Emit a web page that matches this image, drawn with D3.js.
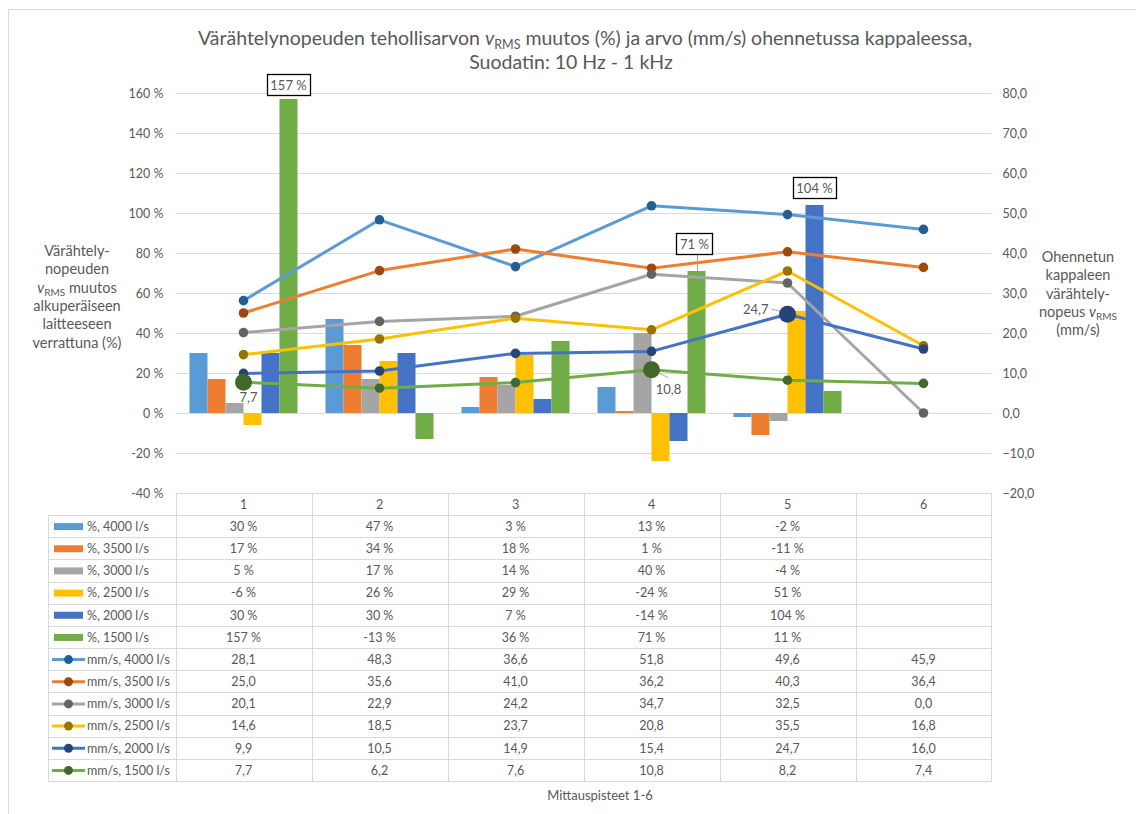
<!DOCTYPE html>
<html>
<head>
<meta charset="utf-8">
<script src="https://cdn.jsdelivr.net/npm/d3@7"></script>
<style>
  html, body { margin: 0; padding: 0; background: #fff; }
  svg { display: block; }
  text { font-family: Lato, "Open Sans", sans-serif; fill: #595959; }
</style>
</head>
<body>
<svg id="chart" width="1136" height="814"></svg>
<script>
// Measuring points along the x axis
const categories = ["1", "2", "3", "4", "5", "6"];

// Change of v_RMS (%) compared with the original device (bars, left axis)
const pct4000 = [30, 47, 3, 13, -2, null];
const pct3500 = [17, 34, 18, 1, -11, null];
const pct3000 = [5, 17, 14, 40, -4, null];
const pct2500 = [-6, 26, 29, -24, 51, null];
const pct2000 = [30, 30, 7, -14, 104, null];
const pct1500 = [157, -13, 36, 71, 11, null];

// Velocity of the thinned part, mm/s (lines, right axis)
const mm4000 = [28.1, 48.3, 36.6, 51.8, 49.6, 45.9];
const mm3500 = [25.0, 35.6, 41.0, 36.2, 40.3, 36.4];
const mm3000 = [20.1, 22.9, 24.2, 34.7, 32.5, 0.0];
const mm2500 = [14.6, 18.5, 23.7, 20.8, 35.5, 16.8];
const mm2000 = [9.9, 10.5, 14.9, 15.4, 24.7, 16.0];
const mm1500 = [7.7, 6.2, 7.6, 10.8, 8.2, 7.4];

// Axis ticks
const leftTicks = [-40, -20, 0, 20, 40, 60, 80, 100, 120, 140, 160];
const rightTicks = [-20, -10, 0, 10, 20, 30, 40, 50, 60, 70, 80];

const barSeries = [
  { name: "%, 4000 l/s", values: pct4000, color: "#5B9BD5" },
  { name: "%, 3500 l/s", values: pct3500, color: "#ED7D31" },
  { name: "%, 3000 l/s", values: pct3000, color: "#A5A5A5" },
  { name: "%, 2500 l/s", values: pct2500, color: "#FFC000" },
  { name: "%, 2000 l/s", values: pct2000, color: "#4472C4" },
  { name: "%, 1500 l/s", values: pct1500, color: "#70AD47" }
];
const lineSeries = [
  { name: "mm/s, 4000 l/s", values: mm4000, color: "#5B9BD5", marker: "#255E91" },
  { name: "mm/s, 3500 l/s", values: mm3500, color: "#ED7D31", marker: "#9E480E" },
  { name: "mm/s, 3000 l/s", values: mm3000, color: "#A5A5A5", marker: "#636363" },
  { name: "mm/s, 2500 l/s", values: mm2500, color: "#FFC000", marker: "#997300" },
  { name: "mm/s, 2000 l/s", values: mm2000, color: "#4472C4", marker: "#264478" },
  { name: "mm/s, 1500 l/s", values: mm1500, color: "#70AD47", marker: "#43682B" }
];

const fi = d3.formatLocale({ decimal: ",", thousands: "\u00a0", grouping: [3], currency: ["", "\u00a0€"] });
const fmt1 = fi.format(".1f");
const fmtPct = v => (v < 0 ? "-" : "") + Math.abs(v) + " %";

const svg = d3.select("#chart");

// Chart frame
svg.append("line").attr("x1", 8.5).attr("x2", 8.5).attr("y1", 9.5).attr("y2", 814).attr("stroke", "#D9D9D9");
svg.append("line").attr("x1", 8.5).attr("x2", 1136).attr("y1", 9.5).attr("y2", 9.5).attr("stroke", "#D9D9D9");

// Plot geometry
const plotLeft = 175.5, plotRight = 991.5, plotTop = 93, plotBottom = 493;

const x0 = d3.scaleBand().domain(categories).range([plotLeft, plotRight]).paddingInner(0).paddingOuter(0);
const x1 = d3.scaleBand().domain(barSeries.map(s => s.name)).range([0, x0.bandwidth()]).paddingInner(0).paddingOuter(0.778);
const yL = d3.scaleLinear().domain([-40, 160]).range([plotBottom, plotTop]);
const yR = d3.scaleLinear().domain([-20, 80]).range([plotBottom, plotTop]);
const cx = c => x0(c) + x0.bandwidth() / 2;

// Gridlines
svg.append("g").selectAll("line").data(leftTicks).join("line")
  .attr("x1", plotLeft).attr("x2", plotRight)
  .attr("y1", d => Math.round(yL(d)) + 0.5).attr("y2", d => Math.round(yL(d)) + 0.5)
  .attr("stroke", "#D9D9D9").attr("stroke-width", 1);

// Left axis
const axL = svg.append("g").attr("transform", `translate(${plotLeft - 12},0)`)
  .call(d3.axisLeft(yL).tickValues(leftTicks).tickFormat(d => d + " %").tickSize(0).tickPadding(0));
axL.select(".domain").remove();
axL.selectAll("text").style("font-size", "12.5px").attr("fill", "#595959").style("font-family", "Lato, sans-serif");

// Right axis
const axR = svg.append("g").attr("transform", `translate(${plotRight + 11},0)`)
  .call(d3.axisRight(yR).tickValues(rightTicks).tickFormat(d => fmt1(d)).tickSize(0).tickPadding(0));
axR.select(".domain").remove();
axR.selectAll("text").style("font-size", "12.5px").attr("fill", "#595959").style("font-family", "Lato, sans-serif");

// Bars
const barG = svg.append("g");
barSeries.forEach(s => {
  barG.append("g").selectAll("rect")
    .data(categories.map((c, i) => ({ c, v: s.values[i] })).filter(d => d.v !== null))
    .join("rect")
    .attr("x", d => x0(d.c) + x1(s.name))
    .attr("width", x1.bandwidth())
    .attr("y", d => yL(Math.max(0, d.v)))
    .attr("height", d => Math.abs(yL(d.v) - yL(0)))
    .attr("fill", s.color);
});

// Lines with markers
const lineGen = d3.line().x((d, i) => cx(categories[i])).y(d => yR(d));
const lineG = svg.append("g");
lineSeries.forEach(s => {
  lineG.append("path").datum(s.values).attr("d", lineGen)
    .attr("fill", "none").attr("stroke", s.color).attr("stroke-width", 3)
    .attr("stroke-linejoin", "round").attr("stroke-linecap", "round");
});
lineSeries.forEach(s => {
  lineG.append("g").selectAll("circle").data(s.values).join("circle")
    .attr("cx", (d, i) => cx(categories[i])).attr("cy", d => yR(d)).attr("r", 4.8)
    .attr("fill", s.marker);
});

// Highlighted points with value labels
const highlights = [
  { series: 5, idx: 0, dx: 5, dy: 15, anchor: "middle", leader: null },
  { series: 5, idx: 3, dx: 17, dy: 20, anchor: "middle", leader: [[5, 2], [17, 8]] },
  { series: 4, idx: 4, dx: -19, dy: -5, anchor: "end", leader: [[-3, -2], [-16, -5]] }
];
highlights.forEach(h => {
  const s = lineSeries[h.series];
  const v = s.values[h.idx];
  const px = cx(categories[h.idx]), py = yR(v);
  if (h.leader) {
    svg.append("line")
      .attr("x1", px + h.leader[0][0]).attr("y1", py + h.leader[0][1])
      .attr("x2", px + h.leader[1][0]).attr("y2", py + h.leader[1][1])
      .attr("stroke", "#A6A6A6").attr("stroke-width", 1);
  }
  svg.append("circle").attr("cx", px).attr("cy", py).attr("r", 8.5).attr("fill", s.marker);
  svg.append("text").attr("x", px + h.dx).attr("y", py + h.dy).attr("dy", "0.35em")
    .attr("text-anchor", h.anchor).style("font-size", "13px").text(fmt1(v));
});

// Boxed bar value labels
const boxLabels = [
  { series: 5, idx: 0, w: 43, gap: 4, offsetX: 0, leader: false },
  { series: 4, idx: 4, w: 43, gap: 7, offsetX: 0, leader: false },
  { series: 5, idx: 3, w: 36, gap: 17, offsetX: -2, leader: true }
];
boxLabels.forEach(b => {
  const s = barSeries[b.series];
  const v = s.values[b.idx];
  const bx = x0(categories[b.idx]) + x1(s.name) + x1.bandwidth() / 2;
  const top = yL(v);
  const boxBottom = top - b.gap, boxH = 21;
  if (b.leader) {
    svg.append("line").attr("x1", bx + b.offsetX + 3).attr("y1", boxBottom)
      .attr("x2", bx + 1).attr("y2", top)
      .attr("stroke", "#A6A6A6").attr("stroke-width", 1);
  }
  svg.append("rect").attr("x", Math.round(bx + b.offsetX - b.w / 2) + 0.5).attr("y", Math.round(boxBottom - boxH) + 0.5)
    .attr("width", b.w).attr("height", boxH)
    .attr("fill", "#fff").attr("stroke", "#000").attr("stroke-width", 1.3);
  svg.append("text").attr("x", bx + b.offsetX).attr("y", boxBottom - boxH / 2 + 0.5).attr("dy", "0.35em")
    .attr("text-anchor", "middle").style("font-size", "13px").text(fmtPct(v));
});

// Data table beneath the plot
const headTop = 493.5, rowTop = 515.5, tableBottom = 781.5, tableLeft = 48.5;
const allRows = barSeries.map(s => ({ ...s, kind: "bar" })).concat(lineSeries.map(s => ({ ...s, kind: "line" })));
const rowY = d3.scaleBand().domain(allRows.map(r => r.name)).range([rowTop, tableBottom]);
const tbl = svg.append("g");
const gridColor = "#D9D9D9";

// horizontal rules
tbl.append("line").attr("x1", plotLeft).attr("x2", plotRight).attr("y1", headTop).attr("y2", headTop).attr("stroke", gridColor);
[rowTop].concat(allRows.map(r => rowY(r.name) + rowY.bandwidth())).forEach(y => {
  const yy = Math.round(y - 0.5) + 0.5;
  tbl.append("line").attr("x1", tableLeft).attr("x2", plotRight).attr("y1", yy).attr("y2", yy).attr("stroke", gridColor);
});
// vertical rules
tbl.append("line").attr("x1", tableLeft).attr("x2", tableLeft).attr("y1", rowTop).attr("y2", tableBottom).attr("stroke", gridColor);
categories.forEach(c => {
  const xx = Math.round(x0(c)) + 0.5;
  tbl.append("line").attr("x1", xx).attr("x2", xx).attr("y1", headTop).attr("y2", tableBottom).attr("stroke", gridColor);
});
tbl.append("line").attr("x1", plotRight).attr("x2", plotRight).attr("y1", headTop).attr("y2", tableBottom).attr("stroke", gridColor);

// header
tbl.selectAll("text.head").data(categories).join("text").attr("class", "head")
  .attr("x", d => cx(d)).attr("y", (headTop + rowTop) / 2).attr("dy", "0.35em")
  .attr("text-anchor", "middle").style("font-size", "12.5px").text(d => d);

// rows
allRows.forEach(r => {
  const ym = rowY(r.name) + rowY.bandwidth() / 2;
  if (r.kind === "bar") {
    tbl.append("rect").attr("x", 54).attr("y", ym - 3.5).attr("width", 29).attr("height", 7).attr("fill", r.color);
  } else {
    tbl.append("line").attr("x1", 52).attr("x2", 85).attr("y1", ym).attr("y2", ym).attr("stroke", r.color).attr("stroke-width", 3);
    tbl.append("circle").attr("cx", 68.5).attr("cy", ym).attr("r", 4.5).attr("fill", r.marker);
  }
  tbl.append("text").attr("x", 87).attr("y", ym).attr("dy", "0.35em").style("font-size", "12.5px").text(r.name);
  r.values.forEach((v, i) => {
    if (v === null) return;
    tbl.append("text").attr("x", cx(categories[i])).attr("y", ym).attr("dy", "0.35em")
      .attr("text-anchor", "middle").style("font-size", "12.5px")
      .text(r.kind === "bar" ? fmtPct(v) : fmt1(v));
  });
});

// X axis title
svg.append("text").attr("x", 600).attr("y", 795).attr("dy", "0.35em").attr("text-anchor", "middle")
  .style("font-size", "13px").text("Mittauspisteet 1-6");

// Chart title
const title = svg.append("text").attr("x", 585).attr("y", 38).attr("dy", "0.35em")
  .attr("text-anchor", "middle").style("font-size", "19.5px");
title.append("tspan").text("Värähtelynopeuden tehollisarvon ");
title.append("tspan").style("font-style", "italic").text("v");
title.append("tspan").attr("dy", 4).style("font-size", "12.5px").text("RMS");
title.append("tspan").attr("dy", -4).text(" muutos (%) ja arvo (mm/s) ohennetussa kappaleessa,");
svg.append("text").attr("x", 571).attr("y", 62).attr("dy", "0.35em")
  .attr("text-anchor", "middle").style("font-size", "19.5px").text("Suodatin: 10 Hz - 1 kHz");

// Axis titles (multi-line)
function multiline(x, y0, lh, lines) {
  lines.forEach((parts, i) => {
    const t = svg.append("text").attr("x", x).attr("y", y0 + i * lh + 5)
      .attr("text-anchor", "middle").style("font-size", "14.5px");
    parts.forEach(p => {
      const ts = t.append("tspan").text(p.t);
      if (p.i) ts.style("font-style", "italic");
      if (p.sub) ts.attr("dy", 3).style("font-size", "10px");
      if (p.unsub) ts.attr("dy", -3);
    });
  });
}
multiline(77, 251, 18.3, [
  [{ t: "Värähtely-" }],
  [{ t: "nopeuden" }],
  [{ t: "v", i: true }, { t: "RMS", sub: true }, { t: " muutos", unsub: true }],
  [{ t: "alkuperäiseen" }],
  [{ t: "laitteeseen" }],
  [{ t: "verrattuna (%)" }]
]);
multiline(1078, 257, 18.3, [
  [{ t: "Ohennetun" }],
  [{ t: "kappaleen" }],
  [{ t: "värähtely-" }],
  [{ t: "nopeus " }, { t: "v", i: true }, { t: "RMS", sub: true }],
  [{ t: "(mm/s)" }]
]);
</script>
</body>
</html>
